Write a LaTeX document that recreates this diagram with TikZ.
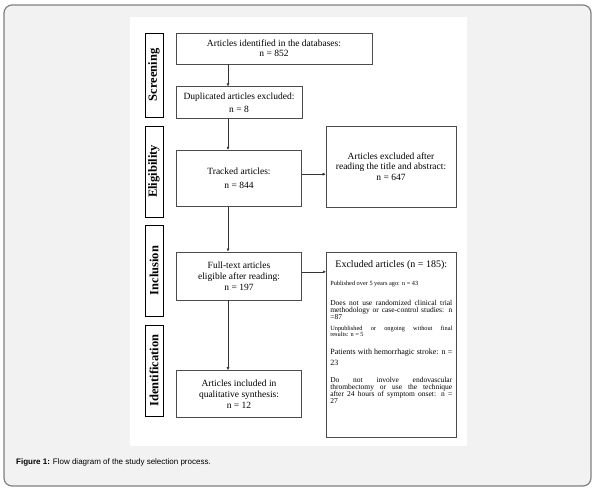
\documentclass[tikz,border=0pt]{standalone}
\usepackage{fontspec}
\setmainfont{Liberation Serif}
\newfontfamily\capfont{Liberation Sans}
\usetikzlibrary{positioning, arrows.meta}

\begin{document}
\begin{tikzpicture}[x=1pt, y=-1pt,
    block/.style={draw=black!70, line width=0.6pt, align=center, inner sep=2pt,
                  minimum width=125pt, font=\fontsize{9.5}{11}\selectfont},
    exbox/.style={draw=black!70, line width=0.6pt, inner sep=4pt},
    phase/.style={draw, line width=0.9pt, rotate=90, minimum height=18pt,
                  inner sep=0pt, font=\fontsize{12.5}{14}\selectfont\bfseries},
    arr/.style={-{Latex[length=3pt, width=3pt]}, line width=0.5pt, black!80}
  ]
    \useasboundingbox (0,0) rectangle (597,491);
    % frame and white panel
    \filldraw[fill=black!5, draw=black!50, line width=1.2pt, rounded corners=8pt]
      (4,5) rectangle (591,486);
    \fill[white] (130,17) rectangle (467,446);
    % phases
    \node[phase, minimum width=84pt] (screen) at (154,75) {Screening};
    \node[phase, minimum width=91pt] (elig) at (154,171.5) {Eligibility};
    \node[phase, minimum width=91pt] (inclu) at (154,270.5) {Inclusion};
    \node[phase, minimum width=91pt] (idf) at (154,370.5) {Identification};
    % main column
    \node[block, minimum width=196pt, minimum height=31pt, font=\fontsize{9.5}{10}\selectfont]
      (ident) at (274,48.5) {Articles identified in the databases:\\n = 852};
    \node[block, minimum width=126pt, minimum height=32pt,
          below right=22pt and 0pt of ident.south west] (dup)
      {Duplicated articles excluded:\\[2pt]n = 8};
    \node[block, minimum height=56pt, below=31pt of dup] (track)
      {Tracked articles:\\[3pt]n = 844};
    \node[block, minimum height=48pt, below=45pt of track] (full)
      {Full-text articles\\eligible after reading:\\n = 197};
    \node[block, minimum height=47pt, below=70pt of full] (incl)
      {Articles included in\\qualitative synthesis:\\n = 12};
    % excluded boxes
    \node[block, minimum width=130pt, minimum height=81pt, font=\fontsize{9.5}{10.5}\selectfont]
      (excl1) at (391,166.5) {Articles excluded after\\reading the title and abstract:\\n = 647};
    \node[exbox, anchor=north west] (excl2) at (326,252) {\parbox[t][177pt][t]{122pt}{%
      \vspace*{4pt}
      {\centering\fontsize{10}{12}\selectfont Excluded articles (n = 185):\par}
      \fontsize{6.3}{7}\selectfont\vspace{11pt}
      Published over 5 years ago: n = 43\par
      \fontsize{7.5}{7}\selectfont\vspace{13pt}
      Does not use randomized clinical trial\linebreak methodology or case-control studies: n\linebreak =87\par
      \fontsize{6.3}{6}\selectfont\vspace{5pt}
      Unpublished or ongoing without final\linebreak results: n = 5\par
      \fontsize{8}{11}\selectfont\vspace{7pt}
      Patients with hemorrhagic stroke: n =\linebreak 23\par
      \fontsize{7.5}{7}\selectfont\vspace{10pt}
      Do not involve endovascular\linebreak thrombectomy or use the technique\linebreak after 24 hours of symptom onset: n =\linebreak 27\par}};
    % arrows
    \coordinate (spine) at (228,0);
    \draw[arr] (ident.south -| spine) -- (dup.north -| spine);
    \draw[arr] (dup.south -| spine) -- (track.north -| spine);
    \draw[arr] (track.south -| spine) -- (full.north -| spine);
    \draw[arr] (full.south -| spine) -- (incl.north -| spine);
    \draw[arr] ([yshift=4pt]track.east) -- ([yshift=4pt]track.east -| excl1.west);
    \draw[arr] ([yshift=4pt]full.east) -- ([yshift=4pt]full.east -| excl2.west);
    % caption
    \node[anchor=base west, inner sep=0pt, font=\capfont\fontsize{8}{10}\selectfont]
      (cap) at (16,464) {\textbf{Figure 1:} Flow diagram of the study selection process.};
\end{tikzpicture}
\end{document}
